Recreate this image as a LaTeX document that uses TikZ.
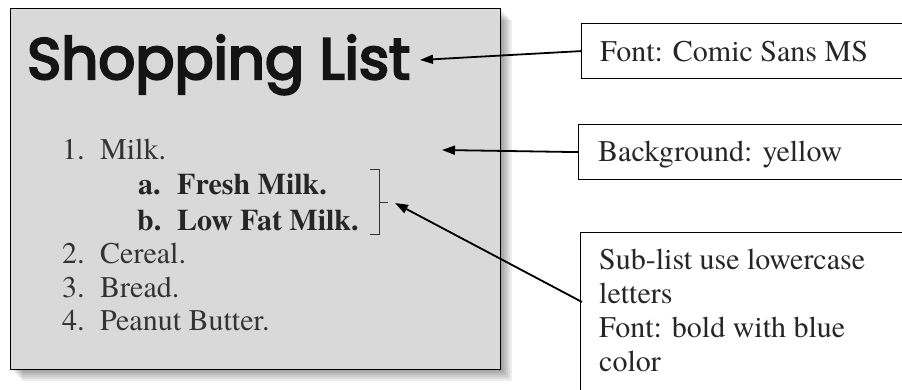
\documentclass[tikz,border=0pt]{standalone}
\usepackage{fontspec}
\setmainfont{texgyretermes}[Extension=.otf,UprightFont=*-regular,BoldFont=*-bold,ItalicFont=*-italic,BoldItalicFont=*-bolditalic]
\newfontfamily\titlefont{Poppins}[FakeBold=4]
\usetikzlibrary{arrows.meta}
\definecolor{boxgray}{HTML}{D9D9D9}
\definecolor{listtext}{HTML}{333333}
\tikzset{
  x=1pt,y=-1pt,
  listitem/.style={anchor=base west,inner sep=0pt,text=listtext,font=\fontsize{30}{34}\selectfont},
  subitem/.style={listitem,font=\fontsize{30}{34}\selectfont\bfseries,text=black!85},
  notebox/.style={draw=black,line width=1.2pt,anchor=north west,inner sep=0pt,fill=white},
  notetext/.style={anchor=north west,inner sep=0pt,align=left,text=black!85,font=\fontsize{30}{34}\selectfont},
  pointer/.style={line width=1.8pt,-{Triangle[length=13pt,width=9pt]}},
}
\begin{document}
\begin{tikzpicture}
\useasboundingbox (0,0) rectangle (902,390);
\fill[white] (0,0) rectangle (902,390);
\begin{scope}
\clip (0,0) rectangle (902,390);
% shadow
\foreach \s in {2,4,6,8,10,12}{
  \fill[black,opacity=0.07] (10+\s,8+\s) rectangle (500+\s,369+\s);
}
% main slide
\node[draw=black,line width=1.2pt,fill=boxgray,anchor=north west,minimum width=490pt,minimum height=361pt,inner sep=0pt] (slide) at (10,8) {};
\node[anchor=base west,inner sep=0pt,text=black!92] (title) at (27,79) {\resizebox{383pt}{!}{\titlefont\fontsize{60}{60}\selectfont Shopping List}};
% list
\node[listitem] (n1) at (62,160) {1.};
\node[listitem] (i1) at (100,160) {Milk.};
\node[subitem] (na) at (138,195) {a.};
\node[subitem] (ia) at (177,195) {Fresh Milk.};
\node[subitem] (nb) at (137,230) {b.};
\node[subitem] (ib) at (177,230) {Low Fat Milk.};
\node[listitem] (n2) at (62,263) {2.};
\node[listitem] (i2) at (100,263) {Cereal.};
\node[listitem] (n3) at (62,297) {3.};
\node[listitem] (i3) at (100,297) {Bread.};
\node[listitem] (n4) at (62,330) {4.};
\node[listitem] (i4) at (100,330) {Peanut Butter.};
% bracket
\draw[line width=0.9pt,black!80] (370,169) -- (379,169) -- (379,234) -- (370,234);
\draw[line width=0.9pt,black!80] (379,202) -- (388,202);
% note boxes
\node[notebox,minimum width=340pt,minimum height=55pt] (b1) at (581,23) {};
\node[notebox,minimum width=340pt,minimum height=55pt] (b2) at (578,124) {};
\node[notebox,minimum width=340pt,minimum height=160pt] (b3) at (580,232) {};
\node[anchor=base west,inner sep=0pt,text=black!85,font=\fontsize{30}{34}\selectfont] (t1) at (600,62) {Font: Comic Sans MS};
\node[anchor=base west,inner sep=0pt,text=black!85,font=\fontsize{30}{34}\selectfont] (t2) at (598,162) {Background: yellow};
\node[notetext] (t3) at (599,249) {Sub-list use lowercase\\letters\\Font: bold with blue\\color};
% pointers
\coordinate (p1) at (420,60);
\coordinate (p2) at (442,150);
\coordinate (p3) at (395,203);
\coordinate (s3) at (582,302);
\draw[pointer] (b1.west) -- (p1);
\draw[pointer] (b2.west) -- (p2);
\draw[pointer] (s3) -- (p3);
\end{scope}
\end{tikzpicture}
\end{document}
